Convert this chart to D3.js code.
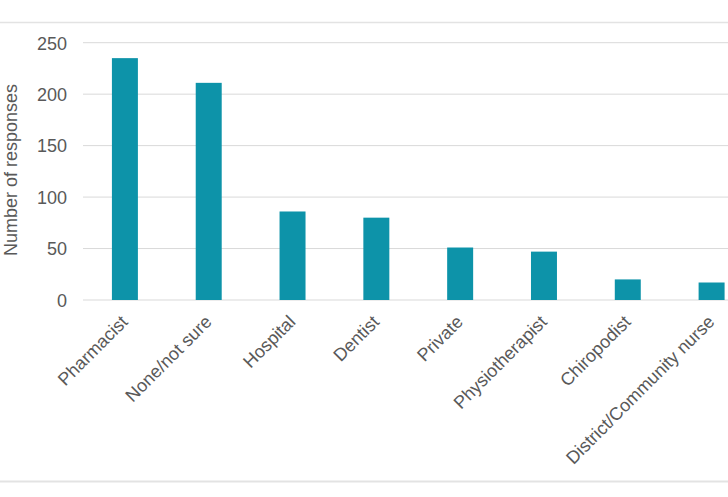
<!DOCTYPE html>
<html>
<head>
<meta charset="utf-8">
<script src="https://cdn.jsdelivr.net/npm/d3@7"></script>
<style>
  html, body { margin: 0; padding: 0; background: #ffffff; }
  svg { display: block; }
</style>
</head>
<body>
<svg id="chart" width="728" height="497"></svg>
<script>
const categories = ["Pharmacist", "None/not sure", "Hospital", "Dentist", "Private", "Physiotherapist", "Chiropodist", "District/Community nurse"];
const responses = [235, 211, 86, 80, 51, 47, 20, 17];
const yTicks = [0, 50, 100, 150, 200, 250];
const yTitle = "Number of responses";

const W = 728, H = 497;
const font = "'Liberation Sans', Arial, sans-serif";
const textColor = "#595959";
const svg = d3.select("#chart");

// container border lines
svg.append("line").attr("x1", 0).attr("x2", W).attr("y1", 22.5).attr("y2", 22.5)
  .attr("stroke", "#e3e3e3").attr("stroke-width", 1.5);
svg.append("line").attr("x1", 0).attr("x2", W).attr("y1", 481.5).attr("y2", 481.5)
  .attr("stroke", "#e3e3e3").attr("stroke-width", 2);

const plotLeft = 83, plotRight = 753.5, plotTop = 42.7, plotBottom = 300;

const x = d3.scaleBand().domain(categories).range([plotLeft, plotRight])
  .paddingInner(0.69).paddingOuter(0.345);
const y = d3.scaleLinear().domain([0, 250]).range([plotBottom, plotTop]);

// gridlines
svg.append("g").selectAll("line").data(yTicks).join("line")
  .attr("x1", plotLeft).attr("x2", W)
  .attr("y1", d => y(d)).attr("y2", d => y(d))
  .attr("stroke", "#d9d9d9").attr("stroke-width", 1);

// y axis labels
const yAxis = d3.axisLeft(y).tickValues(yTicks).tickSize(0).tickPadding(0);
const gy = svg.append("g").attr("transform", "translate(67,0)").call(yAxis);
gy.select(".domain").remove();
gy.selectAll("text").attr("font-family", font).attr("font-size", "18px")
  .attr("fill", textColor).attr("dy", "0.35em");

// bars
svg.append("g").selectAll("rect").data(categories).join("rect")
  .attr("x", d => x(d))
  .attr("width", x.bandwidth())
  .attr("y", (d, i) => y(responses[i]))
  .attr("height", (d, i) => y(0) - y(responses[i]))
  .attr("fill", "#0d93a9");

// x labels
svg.append("g").selectAll("text").data(categories).join("text")
  .attr("transform", d => `translate(${x(d) + x.bandwidth() / 2 + 4},323) rotate(-45)`)
  .attr("text-anchor", "end")
  .attr("font-family", font).attr("font-size", "18px")
  .attr("fill", textColor)
  .text(d => d);

// y title
svg.append("text")
  .attr("transform", "translate(16.5,170) rotate(-90)")
  .attr("text-anchor", "middle")
  .attr("font-family", font).attr("font-size", "18px")
  .attr("fill", textColor)
  .text(yTitle);
</script>
</body>
</html>
